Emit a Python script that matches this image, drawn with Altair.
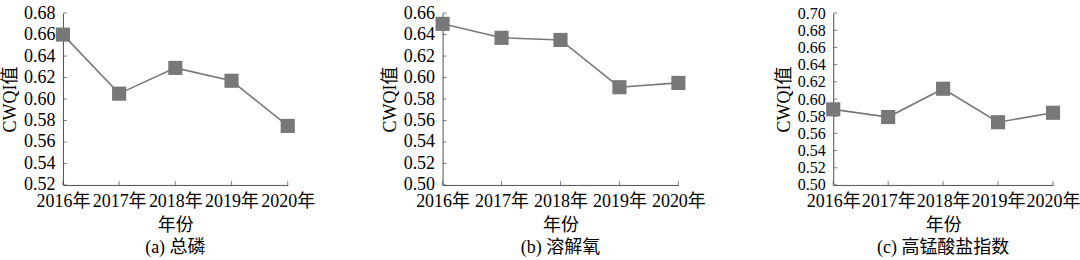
import altair as alt
import pandas as pd

years = ["2016年", "2017年", "2018年", "2019年", "2020年"]
tp_vals = [0.660, 0.605, 0.629, 0.617, 0.575]
do_vals = [0.650, 0.637, 0.635, 0.591, 0.595]
cod_vals = [0.588, 0.579, 0.612, 0.573, 0.584]

ticks_a = [0.52, 0.54, 0.56, 0.58, 0.60, 0.62, 0.64, 0.66, 0.68]
ticks_b = [0.50, 0.52, 0.54, 0.56, 0.58, 0.60, 0.62, 0.64, 0.66]
ticks_c = [0.50, 0.52, 0.54, 0.56, 0.58, 0.60, 0.62, 0.64, 0.66, 0.68, 0.70]

captions = ["(a) 总磷", "(b) 溶解氧", "(c) 高锰酸盐指数"]

FONT = "Liberation Serif, Times New Roman, Noto Sans CJK SC"
GRAY = "#787878"
AXIS = "#505050"
H = 172


def panel(vals, ticks, caption, w, ylab=18):
    df = pd.DataFrame({"year": years, "v": vals})
    tdf = pd.DataFrame({"v": ticks})
    xs = alt.Scale(type="point", padding=0, domain=years)
    ys = alt.Scale(domain=[ticks[0], ticks[-1]], nice=False, zero=False)
    x = alt.X(
        "year:N", sort=years, scale=xs,
        axis=alt.Axis(title="年份", labelAngle=0, tickSize=0, labelPadding=8,
                      titlePadding=6, domainColor=AXIS, labelFont=FONT,
                      titleFont=FONT, labelFontSize=18, titleFontSize=18,
                      titleFontWeight="normal", labelColor="black",
                      titleColor="black", labelOverlap=False),
    )
    y = alt.Y(
        "v:Q", scale=ys,
        axis=alt.Axis(title="CWQI值", values=ticks, format=".2f", tickSize=0,
                      labelPadding=8, titlePadding=4, domainColor=AXIS,
                      grid=False, labelFont=FONT, titleFont=FONT,
                      labelFontSize=ylab, titleFontSize=18,
                      titleFontWeight="normal", labelColor="black",
                      titleColor="black", labelFlush=False,
                      labelOverlap=False),
    )
    line = alt.Chart(df).mark_line(color=GRAY, strokeWidth=1.6).encode(x=x, y=y)
    pts = alt.Chart(df).mark_point(shape="square", filled=True, size=200,
                                   color=GRAY, opacity=1).encode(x=x, y=y)
    ytk = alt.Chart(tdf).mark_tick(orient="horizontal", size=4, thickness=1,
                                   color=AXIS).encode(y=y, x=alt.value(2))
    xtk = alt.Chart(df).mark_tick(orient="vertical", size=4, thickness=1,
                                  color=AXIS).encode(x=x, y=alt.value(H - 2))
    return alt.layer(ytk, xtk, line, pts).properties(
        width=w, height=H,
        title=alt.TitleParams(caption, orient="bottom", font=FONT, fontSize=18,
                              fontWeight="normal", color="black", offset=4),
    )


a = panel(tp_vals, ticks_a, captions[0], 225)
b = panel(do_vals, ticks_b, captions[1], 236)
c = panel(cod_vals, ticks_c, captions[2], 220, ylab=16)

chart = alt.hconcat(a, b, c, spacing=155, bounds="flush").properties(
    padding={"left": 1, "top": 4, "right": 0, "bottom": 0}
).configure_view(strokeOpacity=0)

chart.save("out.html", embed_options={"renderer": "svg", "actions": False})
